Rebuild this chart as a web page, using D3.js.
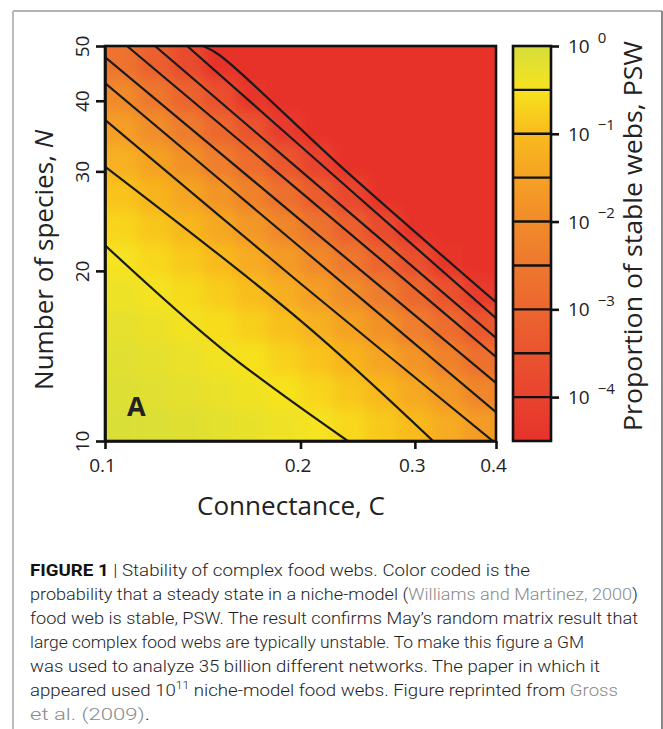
<!DOCTYPE html>
<html>
<head>
<meta charset="utf-8">
<script src="https://cdnjs.cloudflare.com/ajax/libs/d3/7.8.5/d3.min.js"></script>
<style>
  html, body { margin: 0; padding: 0; background: #fff; }
  svg { display: block; }
</style>
</head>
<body>
<div id="chart"></div>
<script>
// grid of cell centres (connectance C, species N)
const connectance = [0.106, 0.119, 0.134, 0.150, 0.168, 0.189, 0.212, 0.238, 0.267, 0.300, 0.336, 0.378];
const species = [10.7, 12.2, 14.0, 16.0, 18.3, 20.9, 23.9, 27.3, 31.3, 35.7, 40.9, 46.7];

// log10 PSW, one row per species value (bottom to top), one column per connectance value
const logPSW = [
  [-0.06, -0.09, -0.14, -0.21, -0.28, -0.38, -0.48, -0.64, -0.83, -1.02, -1.31, -1.63],
  [-0.10, -0.16, -0.22, -0.30, -0.40, -0.50, -0.68, -0.86, -1.08, -1.37, -1.71, -2.12],
  [-0.17, -0.23, -0.32, -0.42, -0.53, -0.72, -0.90, -1.14, -1.42, -1.79, -2.23, -2.72],
  [-0.24, -0.34, -0.44, -0.57, -0.75, -0.94, -1.19, -1.48, -1.86, -2.33, -2.82, -3.41],
  [-0.36, -0.46, -0.61, -0.79, -0.98, -1.25, -1.56, -1.94, -2.43, -2.92, -3.54, -4.23],
  [-0.48, -0.64, -0.83, -1.02, -1.31, -1.63, -2.02, -2.53, -3.02, -3.66, -4.44, -4.50],
  [-0.68, -0.86, -1.08, -1.37, -1.71, -2.12, -2.63, -3.15, -3.77, -4.50, -4.50, -4.50],
  [-0.90, -1.14, -1.42, -1.79, -2.23, -2.72, -3.29, -3.89, -4.50, -4.50, -4.50, -4.50],
  [-1.19, -1.48, -1.86, -2.33, -2.82, -3.41, -4.03, -4.50, -4.50, -4.50, -4.50, -4.50],
  [-1.56, -1.94, -2.43, -2.92, -3.54, -4.23, -4.50, -4.50, -4.50, -4.50, -4.50, -4.50],
  [-2.02, -2.53, -3.02, -3.66, -4.44, -4.50, -4.50, -4.50, -4.50, -4.50, -4.50, -4.50],
  [-2.63, -3.15, -3.77, -4.50, -4.50, -4.50, -4.50, -4.50, -4.50, -4.50, -4.50, -4.50]
];

// contour lines, log10 PSW = -0.5 ... -4.5, points as [C, N]
const contourLevels = [-0.5, -1, -1.5, -2, -2.5, -3, -3.5, -4, -4.5];
const contourLines = [
  [[0.1, 22.2], [0.152, 14.5], [0.2365, 10]],
  [[0.1, 30.6], [0.2017, 16.2], [0.320, 10]],
  [[0.1, 37.0], [0.2, 19.0], [0.3955, 10]],
  [[0.1, 43.0], [0.2, 22.0], [0.4, 11.25]],
  [[0.1, 47.8], [0.2, 24.6], [0.4, 12.67]],
  [[0.1081, 50], [0.2, 27.6], [0.4, 14.09]],
  [[0.1194, 50], [0.2144, 28.1], [0.4, 15.22]],
  [[0.1338, 50], [0.2297, 28.9], [0.4, 16.5]],
  [[0.1416, 50], [0.150, 48.2], [0.236, 29.9], [0.4, 17.6]]
];

const xTicks = [0.1, 0.2, 0.3, 0.4];
const yTicks = [10, 20, 30, 40, 50];
const barTicks = [0, -1, -2, -3, -4];
const barLines = [-0.5, -1, -1.5, -2, -2.5, -3, -3.5, -4];
const colorLevels = [0, -0.5, -1, -1.5, -2, -2.5, -3, -3.5, -4, -4.5];
const colorValues = ["#d6de3a", "#f7e31f", "#f9bb1d", "#f5a124", "#f18b2a", "#ee782e", "#ec652f", "#ea542f", "#e9432e", "#e7322c"];

const captionLines = [
  [["FIGURE 1", "b"], [" | ", "n"], ["Stability of complex food webs. Color coded is the", "n"]],
  [["probability that a steady state in a niche-model (", "n"], ["Williams and Martinez, 2000", "l"], [")", "n"]],
  [["food web is stable, PSW. The result confirms May\u2019s random matrix result that", "n"]],
  [["large complex food webs are typically unstable. To make this figure a GM", "n"]],
  [["was used to analyze 35 billion different networks. The paper in which it", "n"]],
  [["appeared used 10", "n"], ["11", "s"], [" niche-model food webs. Figure reprinted from ", "n"], ["Gross", "l"]],
  [["et al. (2009)", "l"], [".", "n"]]
];
const captionWidths = [500, 608, 608, 554, 570, 588, 120];

const width = 663, height = 729;
const plot = { left: 105, right: 496, top: 46, bottom: 441 };
const bar = { left: 513, right: 551 };
const labelFont = `"Open Sans", "Noto Sans", sans-serif`;

const svg = d3.select("#chart").append("svg")
  .attr("width", width)
  .attr("height", height);

// page frame
svg.append("line").attr("x1", 13).attr("x2", 662).attr("y1", 11).attr("y2", 11)
  .attr("stroke", "#666").attr("stroke-width", 1.2);
svg.append("line").attr("x1", 13).attr("x2", 13).attr("y1", 11).attr("y2", height)
  .attr("stroke", "#bbb").attr("stroke-width", 2);
svg.append("line").attr("x1", 662).attr("x2", 662).attr("y1", 11).attr("y2", height)
  .attr("stroke", "#888").attr("stroke-width", 2);

const x = d3.scaleLog().domain([0.1, 0.4]).range([plot.left, plot.right]);
const y = d3.scaleLog().domain([10, 50]).range([plot.bottom, plot.top]);
const color = d3.scaleLinear().domain(colorLevels).range(colorValues).clamp(true);

const defs = svg.append("defs");
defs.append("clipPath").attr("id", "plot-clip")
  .append("rect")
  .attr("x", plot.left).attr("y", plot.top)
  .attr("width", plot.right - plot.left).attr("height", plot.bottom - plot.top);

const blur = defs.append("filter").attr("id", "soft")
  .attr("x", "-5%").attr("y", "-5%").attr("width", "110%").attr("height", "110%");
blur.append("feGaussianBlur").attr("stdDeviation", 7).attr("result", "b");
const fix = blur.append("feComponentTransfer").attr("in", "b");
fix.append("feFuncA").attr("type", "table").attr("tableValues", "1 1");

// cell edges: geometric midpoints between neighbouring centres
const edges = (centres, domain, pad) => {
  const e = [domain[0] / pad];
  for (let i = 1; i < centres.length; i++) e.push(Math.sqrt(centres[i - 1] * centres[i]));
  e.push(domain[1] * pad);
  return e;
};
const xEdges = edges(connectance, x.domain(), 1.15);
const yEdges = edges(species, y.domain(), 1.15);

const cells = [];
logPSW.forEach((row, j) => row.forEach((v, i) => cells.push({ i, j, v })));

const heat = svg.append("g").attr("clip-path", "url(#plot-clip)")
  .append("g").attr("filter", "url(#soft)");

heat.selectAll("rect")
  .data(cells)
  .join("rect")
  .attr("x", d => x(xEdges[d.i]))
  .attr("y", d => y(yEdges[d.j + 1]))
  .attr("width", d => x(xEdges[d.i + 1]) - x(xEdges[d.i]) + 0.5)
  .attr("height", d => y(yEdges[d.j]) - y(yEdges[d.j + 1]) + 0.5)
  .attr("fill", d => color(d.v));

// contour lines
const line = d3.line().x(d => x(d[0])).y(d => y(d[1])).curve(d3.curveCatmullRom);
svg.append("g").attr("clip-path", "url(#plot-clip)")
  .selectAll("path")
  .data(contourLines)
  .join("path")
  .attr("d", line)
  .attr("fill", "none")
  .attr("stroke", "#1b1b1b")
  .attr("stroke-width", 2.2);

// panel letter
svg.append("text")
  .attr("x", x(0.1) + 22).attr("y", plot.bottom - 25)
  .attr("font-family", labelFont).attr("font-weight", "bold")
  .attr("font-size", 27).attr("fill", "#222")
  .text("A");

// frame of plot area
svg.append("rect")
  .attr("x", plot.left).attr("y", plot.top)
  .attr("width", plot.right - plot.left).attr("height", plot.bottom - plot.top)
  .attr("fill", "none").attr("stroke", "#111").attr("stroke-width", 2.6);

// axes
const xAxis = svg.append("g")
  .attr("transform", `translate(0,${plot.bottom})`)
  .call(d3.axisBottom(x).tickValues(xTicks).tickFormat(d3.format(".1f")).tickSize(8).tickSizeOuter(0).tickPadding(10));

const yAxis = svg.append("g")
  .attr("transform", `translate(${plot.left},0)`)
  .call(d3.axisLeft(y).tickValues(yTicks).tickFormat(d3.format("d")).tickSize(9).tickSizeOuter(0));

[xAxis, yAxis].forEach(g => {
  g.select(".domain").attr("stroke", "#111").attr("stroke-width", 2.6);
  g.selectAll(".tick line").attr("stroke", "#111").attr("stroke-width", 2.6);
  g.selectAll("text").attr("font-family", labelFont).attr("font-size", 19).attr("fill", "#222");
});
xAxis.selectAll("text").attr("dx", -3);
yAxis.selectAll("text")
  .attr("transform", "rotate(-90)")
  .attr("x", 0).attr("y", -16).attr("dy", 0)
  .attr("text-anchor", "middle");

// axis titles
svg.append("text")
  .attr("x", 291).attr("y", 515)
  .attr("text-anchor", "middle")
  .attr("font-family", labelFont).attr("font-size", 26).attr("fill", "#222")
  .attr("textLength", 188).attr("lengthAdjust", "spacingAndGlyphs")
  .text("Connectance, C");

const yTitle = svg.append("text")
  .attr("transform", "translate(53,260) rotate(-90)")
  .attr("text-anchor", "middle")
  .attr("font-family", labelFont).attr("font-size", 26).attr("fill", "#222")
  .attr("textLength", 260).attr("lengthAdjust", "spacingAndGlyphs");
yTitle.append("tspan").text("Number of species, ");
yTitle.append("tspan").attr("font-style", "italic").text("N");

// colour bar
const barScale = d3.scaleLinear().domain([-4.5, 0]).range([plot.bottom, plot.top]);
const grad = defs.append("linearGradient").attr("id", "bar-grad")
  .attr("x1", 0).attr("y1", 1).attr("x2", 0).attr("y2", 0);
grad.selectAll("stop")
  .data(colorLevels.slice().reverse())
  .join("stop")
  .attr("offset", d => (d + 4.5) / 4.5)
  .attr("stop-color", d => color(d));

svg.append("rect")
  .attr("x", bar.left).attr("y", plot.top)
  .attr("width", bar.right - bar.left).attr("height", plot.bottom - plot.top)
  .attr("fill", "url(#bar-grad)");

svg.append("g").selectAll("line")
  .data(barLines)
  .join("line")
  .attr("x1", bar.left).attr("x2", bar.right)
  .attr("y1", d => barScale(d)).attr("y2", d => barScale(d))
  .attr("stroke", "#111").attr("stroke-width", 2.4);

svg.append("rect")
  .attr("x", bar.left).attr("y", plot.top)
  .attr("width", bar.right - bar.left).attr("height", plot.bottom - plot.top)
  .attr("fill", "none").attr("stroke", "#111").attr("stroke-width", 2.6);

const barAxis = svg.append("g")
  .attr("transform", `translate(${bar.right},0)`)
  .call(d3.axisRight(barScale).tickValues(barTicks).tickSize(8).tickSizeOuter(0).tickFormat(""));
barAxis.select(".domain").remove();
barAxis.selectAll(".tick line").attr("stroke", "#111").attr("stroke-width", 2.6);
barAxis.selectAll(".tick text").remove();
barAxis.selectAll(".tick").append("text")
  .attr("x", 17).attr("dy", "0.35em")
  .attr("font-family", labelFont).attr("font-size", 19).attr("fill", "#222")
  .call(t => {
    t.append("tspan").text("10");
    t.append("tspan")
      .attr("dx", 8).attr("dy", "-0.7em").attr("font-size", 15)
      .text(d => d === 0 ? "0" : "\u2212" + Math.abs(d));
  });

svg.append("text")
  .attr("transform", "translate(642,236) rotate(-90)")
  .attr("text-anchor", "middle")
  .attr("font-family", labelFont).attr("font-size", 26).attr("fill", "#222")
  .attr("textLength", 390).attr("lengthAdjust", "spacingAndGlyphs")
  .text("Proportion of stable webs, PSW");

// caption
const caption = svg.append("g")
  .attr("font-family", `Roboto, "Liberation Sans", Arial, sans-serif`)
  .attr("font-weight", 300)
  .attr("font-size", 17);

caption.selectAll("text")
  .data(captionLines)
  .join("text")
  .attr("x", 30)
  .attr("y", (d, i) => 576 + i * 24)
  .attr("textLength", (d, i) => captionWidths[i])
  .attr("lengthAdjust", "spacingAndGlyphs")
  .each(function(parts) {
    const t = d3.select(this);
    let raised = false;
    parts.forEach(([txt, kind]) => {
      const s = t.append("tspan").text(txt);
      if (kind === "b") s.attr("font-weight", "bold").attr("fill", "#111");
      else if (kind === "l") s.attr("fill", "#8a8a8a");
      else if (kind === "s") s.attr("font-size", 11).attr("dy", -7).attr("fill", "#222");
      else s.attr("fill", "#1e1e1e");
      if (kind !== "s" && raised) { s.attr("dy", 7); raised = false; }
      if (kind === "s") raised = true;
    });
  });
</script>
</body>
</html>
